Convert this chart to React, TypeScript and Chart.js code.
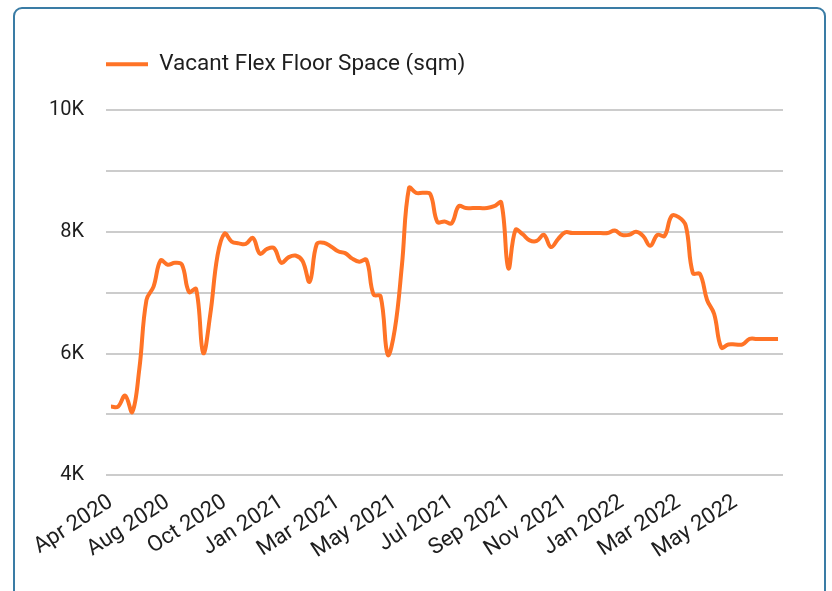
import React, { useEffect, useRef } from 'react';
import { Chart, registerables } from 'chart.js';

Chart.register(...registerables);

// Tick labels shown on the x axis (one every `labelStep` points)
const tickLabels = [
  'Apr 2020', 'Aug 2020', 'Oct 2020', 'Jan 2021', 'Mar 2021', 'May 2021',
  'Jul 2021', 'Sep 2021', 'Nov 2021', 'Jan 2022', 'Mar 2022', 'May 2022',
];
const labelStep = 8;

// Vacant flex floor space (sqm), one value per observation
const vacantSpace = [
  5130, 5130, 5310, 5040, 5750, 6880, 7100, 7530, 7460, 7490,
  7460, 7010, 7060, 6010, 6650, 7600, 7970, 7840, 7810, 7800,
  7900, 7640, 7720, 7730, 7490, 7580, 7610, 7520, 7180, 7800,
  7820, 7760, 7680, 7650, 7560, 7510, 7540, 6970, 6940, 5980,
  6400, 7450, 8720, 8640, 8640, 8620, 8160, 8170, 8140, 8420,
  8390, 8390, 8390, 8390, 8420, 8480, 7400, 8030, 7960, 7860,
  7850, 7950, 7750, 7880, 7990, 7980, 7980, 7980, 7980, 7980,
  7980, 8020, 7950, 7950, 8000, 7930, 7770, 7950, 7930, 8260,
  8240, 8100, 7320, 7310, 6880, 6650, 6100, 6150, 6150, 6150,
  6240, 6240, 6240, 6240, 6240,
];

const seriesLabel = 'Vacant Flex Floor Space (sqm)';
const ORANGE = '#ff7326';
const TEXT = '#1e1e1e';
const TICK_FONT = { family: 'Roboto', size: 20 };
const X_FONT = { family: 'Roboto', size: 22 };
const LEGEND_FONT = { family: 'Roboto', size: 22.5 };

export default function App() {
  const ref = useRef<HTMLCanvasElement | null>(null);

  useEffect(() => {
    if (!ref.current) return;
    const legendGap = {
      id: 'legendGap',
      beforeInit(chart: any) {
        const orig = chart.legend.fit;
        chart.legend.fit = function () {
          orig.call(this);
          this.height += 24.5;
        };
      },
    };
    const chart = new Chart(ref.current, {
      type: 'line',
      data: {
        datasets: [
          {
            label: seriesLabel,
            data: vacantSpace.map((y, x) => ({ x, y })),
            borderColor: ORANGE,
            backgroundColor: ORANGE,
            borderWidth: 4,
            pointRadius: 0,
            pointHoverRadius: 0,
            tension: 0.4,
            fill: false,
          },
        ],
      },
      options: {
        animation: false,
        responsive: false,
        layout: { autoPadding: false, padding: { left: 48, right: 49, top: 53, bottom: 13 } },
        plugins: {
          legend: {
            position: 'top',
            align: 'start',
            fullSize: false,
            labels: {
              usePointStyle: true,
              pointStyle: 'line',
              pointStyleWidth: 42,
              padding: 0,
              color: TEXT,
              font: LEGEND_FONT,
            },
          },
          tooltip: { enabled: false },
        },
        scales: {
          x: {
            type: 'linear',
            min: -0.7,
            max: vacantSpace.length - 1 + 0.7,
            grid: { display: false, drawTicks: false },
            border: { display: false },
            afterBuildTicks: (scale: any) => {
              scale.ticks = tickLabels.map((_, j) => ({ value: j * labelStep }));
            },
            afterFit: (scale: any) => {
              scale.paddingLeft = 0;
              scale.paddingRight = 0;
            },
            ticks: {
              autoSkip: false,
              minRotation: 33,
              maxRotation: 33,
              padding: 14,
              color: TEXT,
              font: X_FONT,
              callback: (v: any) => tickLabels[Math.round(Number(v) / labelStep)] ?? '',
            },
          },
          y: {
            min: 4000,
            max: 10000,
            border: { display: false },
            grid: { color: '#cccccc', lineWidth: 2, drawTicks: false },
            afterFit: (scale: any) => {
              scale.width = 58;
            },
            ticks: {
              stepSize: 1000,
              padding: 22,
              color: TEXT,
              font: TICK_FONT,
              callback: (v: any) => (Number(v) % 2000 === 0 ? `${Number(v) / 1000}K` : ''),
            },
          },
        },
      },
      plugins: [legendGap],
    } as any);
    return () => chart.destroy();
  }, []);

  return (
    <div style={{ position: 'fixed', left: 0, top: 0, width: 832, height: 591, overflow: 'hidden', background: '#fff' }}>
      <div
        style={{
          position: 'absolute',
          left: 13,
          top: 7,
          width: 813,
          height: 640,
          boxSizing: 'border-box',
          border: '2px solid #3a7ca5',
          borderRadius: 9,
        }}
      />
      <canvas
        ref={ref}
        width={832}
        height={591}
        style={{ position: 'absolute', left: 0, top: 0, width: 832, height: 591 }}
      />
    </div>
  );
}
